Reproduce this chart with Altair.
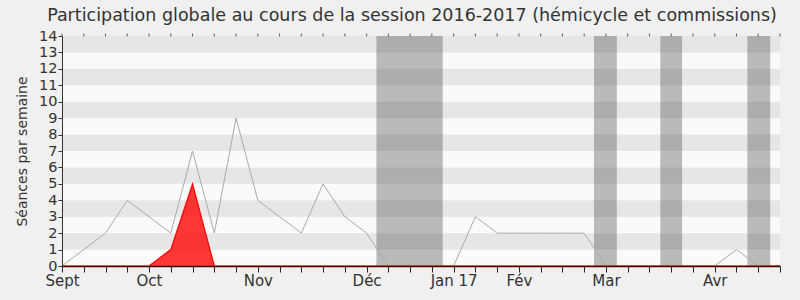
import altair as alt
import pandas as pd

# ---- data ----
weeks = list(range(34))
total = [0, 1, 2, 4, 3, 2, 7, 2, 9, 4, 3, 2, 5, 3, 2, 0, 0, 0, 0, 3, 2, 2, 2, 2, 2,
         0, 0, 0, 0, 0, 0, 1, 0, 0]
hemicycle = [0, 0, 0, 0, 0, 1, 5, 0, 0, 0, 0, 0, 0, 0, 0, 0, 0, 0, 0, 0, 0, 0, 0, 0, 0,
             0, 0, 0, 0, 0, 0, 0, 0, 0]

month_weeks = [0, 4, 9, 14, 18, 21, 25, 30]
month_names = ["Sept", "Oct", "Nov", "Déc", "Jan 17", "Fév", "Mar", "Avr"]

vac_start = [14.45, 24.45, 27.5, 31.5]
vac_end = [17.5, 25.5, 28.5, 32.55]

y_max = 14
x_max = 33

# ---- tables ----
series = pd.DataFrame({"week": weeks, "total": total, "hemicycle": hemicycle,
                       "top": [y_max] * len(weeks)})
stripes = pd.DataFrame({
    "y0": list(range(y_max)),
    "y1": [v + 1 for v in range(y_max)],
    "shade": ["light" if v % 2 == 0 else "dark" for v in range(y_max)],
    "x0": [0] * y_max,
    "x1": [x_max] * y_max,
})
vac = pd.DataFrame({"s": vac_start, "e": vac_end, "y0": [0] * 4, "y1": [y_max] * 4})

label_expr = "".join(
    f"datum.value == {w} ? '{n}' : " for w, n in zip(month_weeks, month_names)
) + "''"

xscale = alt.Scale(domain=[0, x_max], nice=False, zero=False)
yscale = alt.Scale(domain=[0, y_max], nice=False, zero=True)

x_axis = alt.Axis(
    orient="bottom", values=weeks, labelExpr=label_expr, title=None, grid=False,
    ticks=True, tickSize=6, tickWidth=1, tickColor="#222",
    domain=True, domainColor="#3a0800", domainWidth=1.5,
    labelFontSize=15, labelColor="#333", labelPadding=1, labelFont="DejaVu Sans",
    labelAngle=0, labelAlign="center", zindex=1, labelOverlap=False, labelFlush=False,
)
y_axis = alt.Axis(
    values=list(range(y_max + 1)), title="Séances par semaine", grid=False,
    ticks=True, tickSize=4, tickColor="#333", domainColor="#333", labelFontSize=14.5,
    labelColor="#333", labelPadding=1, labelFont="DejaVu Sans",
    titleFontSize=14, titleFontWeight="normal", titleColor="#333",
    titleFont="DejaVu Sans", titlePadding=9, labelOverlap=False, zindex=1,
)

stripe_layer = alt.Chart(stripes).mark_rect().encode(
    x=alt.X("x0:Q", scale=xscale, axis=x_axis),
    x2="x1",
    y=alt.Y("y0:Q", scale=yscale, axis=y_axis),
    y2="y1",
    color=alt.Color("shade:N", scale=alt.Scale(domain=["light", "dark"],
                                               range=["#fafafa", "#e6e6e6"]), legend=None),
)

vac_layer = alt.Chart(vac).mark_rect(color="#434343", opacity=0.35).encode(
    x=alt.X("s:Q", scale=xscale, axis=x_axis),
    x2="e",
    y=alt.Y("y0:Q", scale=yscale, axis=y_axis),
    y2="y1",
)

total_layer = alt.Chart(series).mark_line(color="#aaaaaa", strokeWidth=1).encode(
    x=alt.X("week:Q", scale=xscale, axis=x_axis),
    y=alt.Y("total:Q", scale=yscale, axis=y_axis),
)

red_area = alt.Chart(series).mark_area(color="#ff0000", opacity=0.78).encode(
    x=alt.X("week:Q", scale=xscale, axis=x_axis),
    y=alt.Y("hemicycle:Q", scale=yscale, axis=y_axis),
)
red_line = alt.Chart(series).mark_line(color="#ff0000", strokeWidth=1.2).encode(
    x=alt.X("week:Q", scale=xscale, axis=x_axis),
    y=alt.Y("hemicycle:Q", scale=yscale, axis=y_axis),
)
top_ticks = alt.Chart(series).mark_tick(
    orient="vertical", color="#222", size=3, thickness=1, yOffset=-1
).encode(
    x=alt.X("week:Q", scale=xscale, axis=x_axis),
    y=alt.Y("top:Q", scale=yscale, axis=y_axis),
)

chart = alt.layer(stripe_layer, vac_layer, total_layer, red_area, red_line, top_ticks).properties(
    width=718, height=230,
    autosize=alt.AutoSizeParams(type="none"),
    padding={"left": 62, "top": 36, "right": 20, "bottom": 34},
    title=alt.TitleParams(
        "Participation globale au cours de la session 2016-2017 (hémicycle et commissions)",
        fontSize=17.5, font="DejaVu Sans", fontWeight="normal", color="#333",
        anchor="middle", offset=4, dx=-9,
    ),
).configure(background="#f0f0f0").configure_view(stroke=None)

chart.save("out.html", embed_options={"renderer": "svg", "actions": False})
